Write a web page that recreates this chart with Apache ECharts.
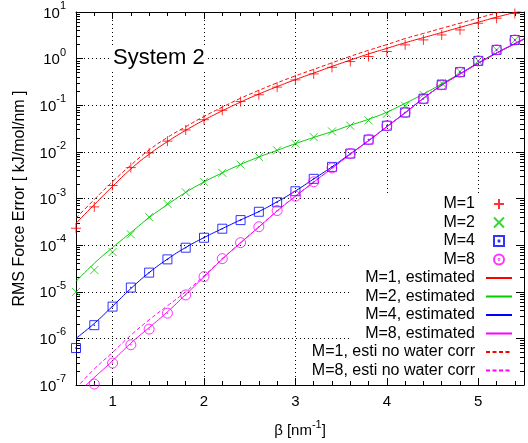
<!DOCTYPE html>
<html>
<head>
<meta charset="utf-8">
<script src="https://cdn.jsdelivr.net/npm/echarts@6/dist/echarts.min.js"></script>
<style>
html, body { margin: 0; padding: 0; background: #fff; }
#chart { width: 528px; height: 443px; }
</style>
</head>
<body>
<div id="chart"></div>
<script>
// measured points (beta in nm^-1)
var betaPts = [0.6, 0.8, 1.0, 1.2, 1.4, 1.6, 1.8, 2.0, 2.2, 2.4, 2.6, 2.8, 3.0, 3.2, 3.4, 3.6, 3.8, 4.0, 4.2, 4.4, 4.6, 4.8, 5.0, 5.2, 5.4];
var rmsM1 = [2.3e-4, 6.6e-4, 1.9e-3, 4.6e-3, 9.5e-3, 1.7e-2, 2.95e-2, 4.9e-2, 7.8e-2, 0.12, 0.168, 0.245, 0.35, 0.47, 0.65, 0.865, 1.11, 1.42, 1.97, 2.52, 3.22, 4.12, 5.73, 7.33, 9.3];
var rmsM2 = [9.9e-6, 2.93e-5, 7.1e-5, 1.7e-4, 4.0e-4, 7.7e-4, 1.36e-3, 2.28e-3, 3.55e-3, 5.33e-3, 7.8e-3, 1.08e-2, 1.5e-2, 2.08e-2, 2.75e-2, 3.64e-2, 4.73e-2, 6.58e-2, 9.75e-2, 0.168, 0.299, 0.528, 0.895, 1.54, 2.51];
var rmsM4 = [6.2e-7, 1.92e-6, 4.8e-6, 1.23e-5, 2.57e-5, 4.95e-5, 8.8e-5, 1.44e-4, 2.25e-4, 3.44e-4, 5.19e-4, 8.3e-4, 1.43e-3, 2.64e-3, 4.76e-3, 9.2e-3, 1.83e-2, 3.64e-2, 7.0e-2, 0.138, 0.275, 0.513, 0.895, 1.54, 2.51];
var rmsM8 = [null, 1.05e-7, 2.96e-7, 7.3e-7, 1.58e-6, 3.47e-6, 8.55e-6, 2.11e-5, 5.13e-5, 1.13e-4, 2.48e-4, 5.53e-4, 1.12e-3, 2.28e-3, 4.54e-3, 9.2e-3, 1.83e-2, 3.64e-2, 7.0e-2, 0.138, 0.275, 0.513, 0.895, 1.54, 2.51];

// estimated curves
var betaEst = [0.6, 0.8, 1.0, 1.2, 1.4, 1.6, 1.8, 2.0, 2.2, 2.4, 2.6, 2.8, 3.0, 3.2, 3.4, 3.6, 3.8, 4.0, 4.2, 4.4, 4.6, 4.8, 5.0, 5.2, 5.4, 5.5];
var estM1 = [2.95e-4, 7.4e-4, 1.82e-3, 4.3e-3, 8.9e-3, 1.66e-2, 2.9e-2, 4.8e-2, 7.6e-2, 0.117, 0.174, 0.251, 0.355, 0.49, 0.68, 0.93, 1.26, 1.66, 2.19, 2.82, 3.63, 4.68, 6.03, 7.76, 9.77, 11.0];
var estM2 = [1.66e-5, 4.07e-5, 8.9e-5, 1.86e-4, 3.9e-4, 7.4e-4, 1.35e-3, 2.26e-3, 3.55e-3, 5.37e-3, 7.76e-3, 1.08e-2, 1.5e-2, 2.04e-2, 2.72e-2, 3.72e-2, 5.0e-2, 7.1e-2, 0.11, 0.174, 0.288, 0.479, 0.813, 1.32, 2.09, 2.63];
var estM4 = [1.0e-6, 2.09e-6, 4.9e-6, 1.17e-5, 2.57e-5, 5.0e-5, 8.9e-5, 1.45e-4, 2.26e-4, 3.47e-4, 5.25e-4, 8.5e-4, 1.45e-3, 2.63e-3, 4.79e-3, 9.1e-3, 1.74e-2, 3.47e-2, 6.9e-2, 0.141, 0.269, 0.468, 0.794, 1.32, 2.09, 2.63];
var estM8 = [6.3e-8, 1.45e-7, 3.3e-7, 7.9e-7, 1.7e-6, 3.7e-6, 8.7e-6, 2.09e-5, 5.0e-5, 1.12e-4, 2.45e-4, 5.4e-4, 1.12e-3, 2.24e-3, 4.47e-3, 8.9e-3, 1.74e-2, 3.47e-2, 6.9e-2, 0.141, 0.269, 0.468, 0.794, 1.32, 2.09, 2.63];
var estM1NoWater = [3.8e-4, 9.5e-4, 2.3e-3, 5.2e-3, 1.1e-2, 2.04e-2, 3.47e-2, 5.75e-2, 9.1e-2, 0.141, 0.209, 0.302, 0.427, 0.589, 0.813, 1.12, 1.51, 2.0, 2.69, 3.47, 4.47, 5.75, 7.41, 9.55, 12.3, 13.8];
var estM8NoWater = [8.5e-8, 2.2e-7, 5.0e-7, 1.17e-6, 2.5e-6, 5.0e-6, 1.0e-5, 2.19e-5, 5.07e-5, 1.12e-4, 2.45e-4, 5.4e-4, 1.12e-3, 2.24e-3, 4.47e-3, 8.9e-3, 1.74e-2, 3.47e-2, 6.9e-2, 0.141, 0.269, 0.468, 0.794, 1.32, 2.09, 2.63];

// ticks
var xMajor = [1, 2, 3, 4, 5];
var xMinor = [0.8, 1.2, 1.4, 1.6, 1.8, 2.2, 2.4, 2.6, 2.8, 3.2, 3.4, 3.6, 3.8, 4.2, 4.4, 4.6, 4.8, 5.2, 5.4];
var yMajor = [1e-7, 1e-6, 1e-5, 1e-4, 1e-3, 1e-2, 1e-1, 1, 10];
var yMinor = [];
for (var d = -7; d < 1; d++) {
    for (var k = 2; k < 10; k++) {
        yMinor.push(k * Math.pow(10, d));
    }
}

var FONT = 'Liberation Sans';

function pairs(xs, ys) {
    var out = [];
    for (var i = 0; i < xs.length; i++) {
        if (ys[i] != null) out.push([xs[i], ys[i]]);
    }
    return out;
}

function xAx(pos, ticks, len, main) {
    return {
        type: 'value', position: pos, min: 0.6, max: 5.5,
        axisLine: { show: main, onZero: false, lineStyle: { color: '#000', width: 1 } },
        axisTick: { show: true, inside: true, length: len, customValues: ticks, lineStyle: { color: '#000', width: 1 } },
        axisLabel: {
            show: main && pos === 'bottom', customValues: ticks, margin: 9,
            color: '#000', fontSize: 15, fontFamily: FONT
        },
        splitLine: { show: main && pos === 'bottom', lineStyle: { color: '#000', width: 1, type: [1, 3] } }
    };
}

function yAx(pos, ticks, len, main) {
    return {
        type: 'log', logBase: 10, position: pos, min: 1e-7, max: 10,
        axisLine: { show: main, onZero: false, lineStyle: { color: '#000', width: 1 } },
        axisTick: { show: true, inside: true, length: len, customValues: ticks, lineStyle: { color: '#000', width: 1 } },
        axisLabel: {
            show: main && pos === 'left', customValues: ticks, margin: 10,
            formatter: function (v) {
                var e = Math.round(Math.log(v) / Math.LN10);
                return '{b|10}{s|' + e + '}';
            },
            rich: {
                b: { fontSize: 15, fontFamily: FONT, color: '#000', padding: [3, 0, 0, 0] },
                s: { fontSize: 11, fontFamily: FONT, color: '#000', padding: [0, 0, 12, 0] }
            }
        },
        splitLine: { show: main && pos === 'left', lineStyle: { color: '#000', width: 1, type: [1, 3] } }
    };
}

var xMain = xAx('bottom', xMajor, 7, true);
xMain.name = '{n|β [nm}{s|-1}{n|]}';
xMain.nameLocation = 'middle';
xMain.nameGap = 32;
xMain.nameTextStyle = {
    rich: {
        n: { fontSize: 15, fontFamily: FONT, color: '#000', padding: [6, 0, 0, 0] },
        s: { fontSize: 11, fontFamily: FONT, color: '#000', padding: [0, 0, 6, 0] }
    }
};

var yMain = yAx('left', yMajor, 7, true);
yMain.name = 'RMS Force Error [ kJ/mol/nm ]';
yMain.nameLocation = 'middle';
yMain.nameGap = 48;
yMain.nameTextStyle = { fontSize: 16, fontFamily: FONT, color: '#000' };

var PLUS = 'path://M0,5H10M5,0V10';
var CROSS = 'path://M0,0L10,10M10,0L0,10';
var BOXDOT = 'path://M0,0H10V10H0ZM4.6,4.6H5.4V5.4H4.6Z';
var CIRCDOT = 'path://M0,5A5,5,0,1,1,10,5A5,5,0,1,1,0,5ZM4.6,5A0.4,0.4,0,1,1,5.4,5A0.4,0.4,0,1,1,4.6,5Z';

function pts(name, ys, symbol, size, color) {
    return {
        name: name, type: 'scatter', z: 3,
        data: pairs(betaPts, ys),
        symbol: symbol, symbolSize: size,
        itemStyle: { color: 'rgba(0,0,0,0)', borderColor: color, borderWidth: 1 }
    };
}

function est(name, ys, color, dashed) {
    return {
        name: name, type: 'line', z: 2,
        data: pairs(betaEst, ys),
        smooth: true, symbol: 'none', showSymbol: false,
        itemStyle: { color: color },
        lineStyle: { color: color, width: 1, type: dashed ? [4, 2.5] : 'solid' }
    };
}

// legend entries: the line ones get no symbol in the middle
function lineKey(name) {
    return { name: name, itemStyle: { opacity: 0 } };
}

var chart = echarts.init(document.getElementById('chart'));
var option = {
    animation: false,
    backgroundColor: '#fff',
    textStyle: { fontFamily: FONT },
    title: {
        text: 'System 2', left: 112, top: 47, padding: [0, 1, 0, 1],
        backgroundColor: '#fff',
        textStyle: { fontSize: 22, fontWeight: 'normal', fontFamily: FONT, color: '#000' }
    },
    grid: { left: 76, top: 12, width: 448, height: 374 },
    xAxis: [xMain, xAx('bottom', xMinor, 4, false), xAx('top', xMajor, 7, true), xAx('top', xMinor, 4, false)],
    yAxis: [yMain, yAx('left', yMinor, 4, false), yAx('right', yMajor, 7, true), yAx('right', yMinor, 4, false)],
    graphic: [{
        type: 'rect', z: 1,
        shape: { x: 350, y: 195, width: 166, height: 183 },
        style: { fill: '#fff' }
    }],
    legend: {
        orient: 'vertical', right: 15, top: 195, align: 'right',
        itemWidth: 26, itemHeight: 10, itemGap: 0.5, padding: 0,
        selectedMode: false,
        textStyle: { fontSize: 16, fontFamily: FONT, color: '#000', lineHeight: 18, padding: [0, 6, 0, 0] },
        data: ['M=1', 'M=2', 'M=4', 'M=8',
            lineKey('M=1, estimated'), lineKey('M=2, estimated'), lineKey('M=4, estimated'), lineKey('M=8, estimated'),
            lineKey('M=1, esti no water corr'), lineKey('M=8, esti no water corr')]
    },
    series: [
        pts('M=1', rmsM1, PLUS, 10, '#ff0000'),
        pts('M=2', rmsM2, CROSS, 8, '#00cc00'),
        pts('M=4', rmsM4, BOXDOT, 9, '#0000ff'),
        pts('M=8', rmsM8, CIRCDOT, 10, '#ff00ff'),
        est('M=1, estimated', estM1, '#ff0000', false),
        est('M=2, estimated', estM2, '#00cc00', false),
        est('M=4, estimated', estM4, '#0000ff', false),
        est('M=8, estimated', estM8, '#ff00ff', false),
        est('M=1, esti no water corr', estM1NoWater, '#ff0000', true),
        est('M=8, esti no water corr', estM8NoWater, '#ff00ff', true)
    ]
};
chart.setOption(option);
</script>
</body>
</html>
